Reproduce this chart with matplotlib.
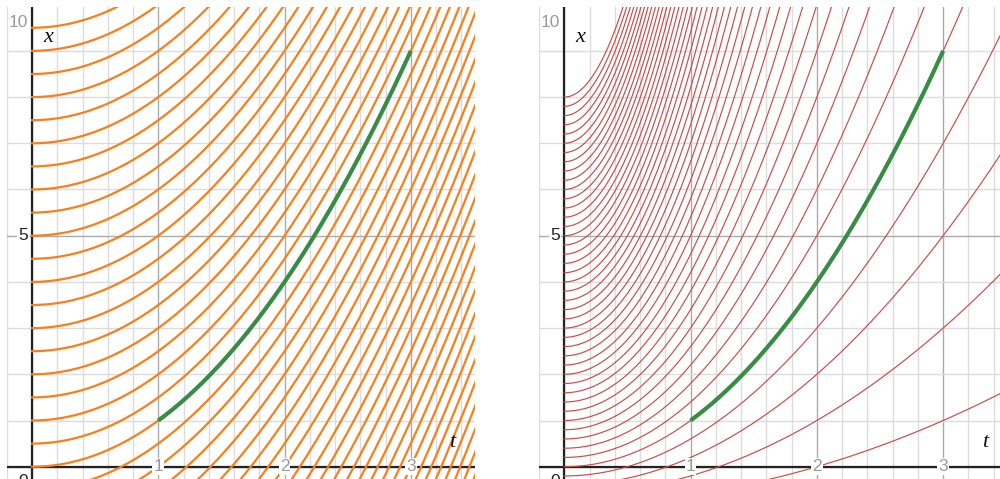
import numpy as np
import matplotlib
matplotlib.use("Agg")
import matplotlib.pyplot as plt

# ---- curve families -------------------------------------------------------
# left : x = t^2 + c, starting values at t=0 spaced 0.5 (plus the ones below 0)
orange_c = np.arange(-13.0, 9.51, 0.5)
# right: x = (1 + c) t^2 + c, starting values at t=0 spaced 0.2
red_c = np.arange(-0.8, 8.01, 0.2)
# highlighted solution x = t^2 on 1 <= t <= 3
green_t = (1.0, 3.0)

t_ticks = [1, 2, 3]
x_ticks = [5, 10]

ORANGE = "#fa7e19"
RED = "#cc4b47"
GREEN = "#388c46"
MINOR = "#dcdcdc"
MAJOR = "#ababab"
LABEL_GREY = "#9a9a9a"

W, H = 1000, 479
fig = plt.figure(figsize=(W / 100, H / 100), dpi=100)

def make_axes(left_px, right_px, tmin, tmax):
    ax = fig.add_axes([left_px / W, 0, (right_px - left_px) / W, 472 / H])
    ax.set_xlim(tmin, tmax)
    ax.set_ylim(-0.266, 9.95)
    ax.axis("off")
    # grid
    for tv in np.arange(-0.2, tmax + 0.01, 0.2):
        major = abs(tv - round(tv)) < 1e-6
        ax.axvline(tv, color=MAJOR if major else MINOR, lw=1.0, zorder=0)
    for xv in range(0, 11):
        ax.axhline(xv, color=MAJOR if xv % 5 == 0 else MINOR, lw=1.0, zorder=0)
    # main axes
    ax.axvline(0, color="#222222", lw=1.6, zorder=1)
    ax.axhline(0, color="#222222", lw=1.6, zorder=1)
    return ax

def decorate(ax):
    box = dict(facecolor="white", edgecolor="none", pad=0.8)
    for tv in t_ticks:
        ax.text(tv, 0, str(tv), ha="center", va="center", fontsize=12.5,
                family="Liberation Sans", color=LABEL_GREY, bbox=box, zorder=5)
    ax.text(-0.035, 5, "5", ha="right", va="center", fontsize=12.5,
            family="Liberation Sans", color="#222222", bbox=box, zorder=5)
    ax.text(-0.035, 9.62, "10", ha="right", va="center", fontsize=12.5,
            family="Liberation Sans", color=LABEL_GREY, zorder=5)
    ax.text(-0.035, -0.33, "0", ha="right", va="center", fontsize=12.5,
            family="Liberation Sans", color="#222222", zorder=5)
    ax.text(0.13, 9.3, "x", ha="center", va="center", fontsize=16,
            family="Liberation Serif", style="italic", color="#111111", zorder=5)
    ax.text(3.33, 0.52, "t", ha="center", va="center", fontsize=16,
            family="Liberation Serif", style="italic", color="#111111", zorder=5)

t = np.linspace(0, 3.6, 800)
tg = np.linspace(green_t[0], green_t[1], 200)

# ---- left panel -------------------------------------------------------------
axL = make_axes(7, 475, -0.198, 3.508)
for c in orange_c:
    axL.plot(t, t ** 2 + c, color=ORANGE, lw=1.6, zorder=2)
axL.plot(tg, tg ** 2, color=GREEN, lw=3.0, solid_capstyle="butt", zorder=3)
decorate(axL)

# ---- right panel ------------------------------------------------------------
axR = make_axes(539, 1000, -0.2, 3.45)
for c in red_c:
    axR.plot(t, (1 + c) * t ** 2 + c, color=RED, lw=0.85, zorder=2)
axR.plot(tg, tg ** 2, color=GREEN, lw=3.0, solid_capstyle="butt", zorder=3)
decorate(axR)

fig.savefig("out.png", dpi=100)
